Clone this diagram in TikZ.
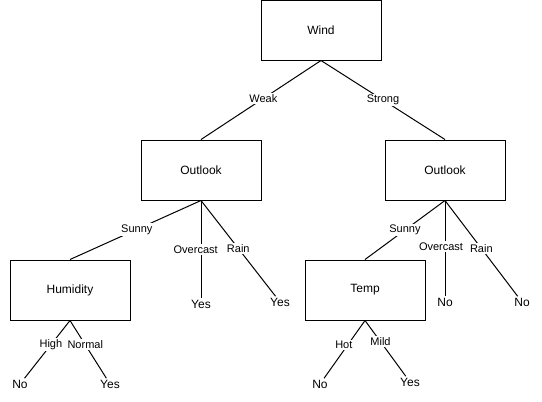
\documentclass[tikz,border=0pt]{standalone}
\usepackage{fontspec}
\setmainfont{Liberation Sans}
\begin{document}
\begin{tikzpicture}[x=0.75pt,y=-0.75pt,
  box/.style={draw,line width=0.75pt,minimum width=90pt,minimum height=45pt,inner sep=0pt,font=\fontsize{9}{11}\selectfont},
  leaf/.style={inner sep=1pt,font=\fontsize{9}{11}\selectfont},
  lbl/.style={fill=white,inner sep=1pt,font=\fontsize{8.25}{10}\selectfont},
  edge/.style={line width=0.75pt}]
\useasboundingbox (0,0) rectangle (542,401);
\node[box] (wind) at (321,30) {Wind};
\node[box] (ol) at (201,170) {Outlook};
\node[box] (or) at (445,170) {Outlook};
\node[box] (hum) at (70,290) {Humidity};
\node[box] (temp) at (365,290) {Temp};
\node[leaf] (y1) at (201,304) {Yes};
\node[leaf] (y2) at (280,302) {Yes};
\node[leaf] (n1) at (445,302) {No};
\node[leaf] (n2) at (522,302) {No};
\node[leaf] (n3) at (20,384) {No};
\node[leaf] (y3) at (110,384) {Yes};
\node[leaf] (n4) at (320,384) {No};
\node[leaf] (y4) at (410,382) {Yes};
\draw[edge] (wind.south) -- node[lbl,pos=0.48] {Weak} (ol.north);
\draw[edge] (wind.south) -- node[lbl,pos=0.5] {Strong} (or.north);
\draw[edge] (ol.south) -- node[lbl,pos=0.49] {Sunny} (hum.north);
\draw[edge] (ol.south) -- node[lbl,pos=0.5,xshift=-4] {Overcast} (y1);
\draw[edge] (ol.south) -- node[lbl,pos=0.5] {Rain} (y2);
\draw[edge] (or.south) -- node[lbl,pos=0.5] {Sunny} (temp.north);
\draw[edge] (or.south) -- node[lbl,pos=0.48,xshift=-3] {Overcast} (n1);
\draw[edge] (or.south) -- node[lbl,pos=0.5] {Rain} (n2);
\draw[edge] (hum.south) -- node[lbl,pos=0.42] {High} (n3);
\draw[edge] (hum.south) -- node[lbl,pos=0.42] {Normal} (y3);
\draw[edge] (temp.south) -- node[lbl,pos=0.42,xshift=-3] {Hot} (n4);
\draw[edge] (temp.south) -- node[lbl,pos=0.38] {Mild} (y4);
\end{tikzpicture}
\end{document}
